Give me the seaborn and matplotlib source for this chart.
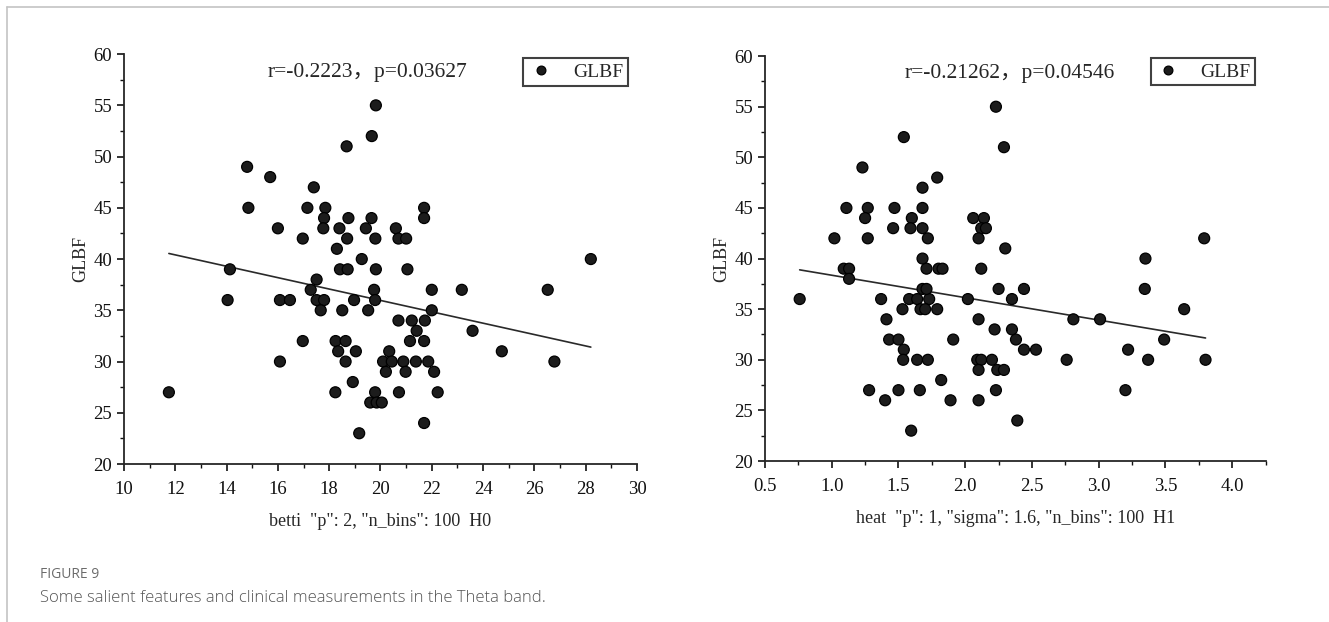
import numpy as np
import pandas as pd
import matplotlib
matplotlib.use("Agg")
import matplotlib.pyplot as plt
from matplotlib.lines import Line2D
from matplotlib.ticker import MultipleLocator
import seaborn as sns

# ---- data: left panel (betti H0 vs GLBF) ----
betti_h0 = [14.8, 15.7, 17.4, 14.85, 16.0, 17.15, 17.85, 17.8, 17.77, 16.97, 18.4, 18.75, 18.7, 18.3,
            19.43, 19.65, 19.8, 18.68, 19.66, 19.82, 19.27, 21.7, 21.7, 20.6, 20.7, 21.0, 28.2, 18.42,
            18.72, 19.82, 21.05, 17.51, 11.75, 14.13, 14.04, 16.08, 16.47, 16.08, 16.97, 17.28, 17.51,
            17.8, 17.67, 19.75, 19.79, 19.52, 18.97, 18.51, 18.25, 18.64, 18.35, 19.04, 18.64, 18.92,
            18.24, 19.79, 19.6, 19.85, 20.05, 19.17, 22.0, 23.17, 26.52, 22.0, 20.7, 21.22, 21.73,
            21.41, 23.59, 21.15, 21.7, 20.34, 24.73, 20.1, 20.44, 20.89, 21.38, 21.86, 26.78, 20.21,
            20.98, 22.09, 20.72, 22.23, 21.7]
glbf_left = [49, 48, 47, 45, 43, 45, 45, 44, 43, 42, 43, 44, 42, 41,
             43, 44, 42, 51, 52, 55, 40, 45, 44, 43, 42, 42, 40, 39,
             39, 39, 39, 38, 27, 39, 36, 36, 36, 30, 32, 37, 36,
             36, 35, 37, 36, 35, 36, 35, 32, 32, 31, 31, 30, 28,
             27, 27, 26, 26, 26, 23, 37, 37, 37, 35, 34, 34, 34,
             33, 33, 32, 32, 31, 31, 30, 30, 30, 30, 30, 30, 29,
             29, 29, 27, 27, 24]

# ---- data: right panel (heat H1 vs GLBF) ----
heat_h1 = [2.23, 1.54, 2.29, 1.23, 1.79, 1.68, 1.11, 1.27, 1.47, 1.68, 1.25, 1.60, 2.06, 2.14,
           1.46, 1.59, 1.68, 2.12, 2.155, 1.02, 1.27, 1.72, 2.10, 2.30, 1.68, 1.09, 1.13, 1.13,
           1.71, 1.80, 1.83, 2.12, 0.76, 1.37, 1.58, 1.64, 1.73, 1.68, 1.71, 2.02, 2.25, 2.44,
           2.35, 1.53, 1.665, 1.70, 1.79, 1.41, 2.10, 1.43, 1.50, 1.91, 1.54, 2.22, 2.35, 2.38,
           2.44, 2.53, 1.535, 1.64, 1.72, 2.09, 2.12, 2.20, 2.10, 2.24, 2.29, 1.82, 1.28, 1.50,
           1.66, 2.23, 1.40, 1.89, 2.10, 1.595, 2.39, 3.79, 3.35, 3.345, 3.64, 2.81, 3.01, 3.49,
           3.22, 2.76, 3.37, 3.80, 3.20]
glbf_right = [55, 52, 51, 49, 48, 47, 45, 45, 45, 45, 44, 44, 44, 44,
              43, 43, 43, 43, 43, 42, 42, 42, 42, 41, 40, 39, 39, 38,
              39, 39, 39, 39, 36, 36, 36, 36, 36, 37, 37, 36, 37, 37,
              36, 35, 35, 35, 35, 34, 34, 32, 32, 32, 31, 33, 33, 32,
              31, 31, 30, 30, 30, 30, 30, 30, 29, 29, 29, 28, 27, 27,
              27, 27, 26, 26, 26, 23, 24, 42, 40, 37, 35, 34, 34, 32,
              31, 30, 30, 30, 27]

right_ticks = [0.5, 1.0, 1.5, 2.0, 2.5, 3.0, 3.5, 4.0]
right_ticklabels = ["0.5", "1.0", "1.5", "2.0", "2.5", "3.0", "3.5", "4.0"]
left_xlabel = 'betti  "p": 2, "n_bins": 100  H0'
right_xlabel = 'heat  "p": 1, "sigma": 1.6, "n_bins": 100  H1'
ylabel = "GLBF"
left_stat = "r=-0.2223，p=0.03627"
right_stat = "r=-0.21262，p=0.04546"
caption_head = "FIGURE 9"
caption_text = "Some salient features and clinical measurements in the Theta band."

df_left = pd.DataFrame({"x": betti_h0, "y": glbf_left, "s": "GLBF"})
df_right = pd.DataFrame({"x": heat_h1, "y": glbf_right, "s": "GLBF"})

sns.set_style("ticks")
serif = ["Liberation Serif", "Noto Sans CJK SC", "DejaVu Sans"]
plt.rcParams["font.family"] = serif
plt.rcParams["axes.linewidth"] = 1.3

fig = plt.figure(figsize=(13.29, 6.22), dpi=100)
ax1 = fig.add_axes([0.0933, 0.254, 0.386, 0.659])
ax2 = fig.add_axes([0.5756, 0.2588, 0.3767, 0.651])


def draw(ax, df, xlim, xmaj, xmin, xlabel, stat, stat_x, leg_anchor):
    sns.regplot(data=df, x="x", y="y", ax=ax, scatter=False, ci=None,
                line_kws=dict(color="#2a2a2a", lw=1.2), truncate=True)
    sns.scatterplot(data=df, x="x", y="y", hue="s", palette=["#1c1c1c"], ax=ax,
                    s=62, edgecolor="#000000", linewidth=0.9, zorder=3)
    ax.set_xlim(*xlim)
    ax.set_ylim(20, 60)
    ax.xaxis.set_major_locator(MultipleLocator(xmaj))
    ax.xaxis.set_minor_locator(MultipleLocator(xmin))
    ax.yaxis.set_major_locator(MultipleLocator(5))
    ax.yaxis.set_minor_locator(MultipleLocator(2.5))
    ax.tick_params(which="major", direction="out", length=5, width=1.2, labelsize=13.5, colors="#111")
    ax.tick_params(axis="x", which="major", pad=7)
    ax.tick_params(which="minor", direction="out", length=3, width=1.0, colors="#111")
    sns.despine(ax=ax)
    ax.set_xlabel(xlabel, fontsize=13, family=serif, labelpad=11)
    ax.set_ylabel(ylabel, fontsize=13, family=serif, labelpad=3)
    ax.text(stat_x, 0.956, stat, transform=ax.transAxes, ha="center", va="center",
            fontsize=15.5, family=serif)
    leg = ax.legend(loc="upper right", bbox_to_anchor=leg_anchor, frameon=True, fancybox=False,
                    handletextpad=1.0, borderpad=0.25, prop={"family": serif, "size": 14},
                    markerscale=0.8, handlelength=1.3, borderaxespad=0.0)
    leg.get_frame().set_edgecolor("#111")
    leg.get_frame().set_linewidth(1.5)


draw(ax1, df_left, (10, 30), 2, 1, left_xlabel, left_stat, 0.474, (0.982, 0.99))
draw(ax2, df_right, (0.5, 4.25), 0.5, 0.25, right_xlabel, right_stat, 0.489, (0.979, 0.995))
ax2.set_xticks(right_ticks)
ax2.set_xticklabels(right_ticklabels)

# page frame lines and caption
fig.add_artist(Line2D([7/1329, 1], [1-7/622, 1-7/622], color="#c4c4c4", lw=1.2, transform=fig.transFigure))
fig.add_artist(Line2D([7/1329, 7/1329], [0, 1-7/622], color="#c4c4c4", lw=1.2, transform=fig.transFigure))
fig.text(40/1329, 1-575/622, caption_head, fontsize=10, color="#6b6b6b", family=["Open Sans", "DejaVu Sans"],
         va="center", ha="left")
fig.text(40/1329, 1-598/622, caption_text, fontsize=12, color="#555555", family=["Open Sans", "DejaVu Sans"],
         va="center", ha="left", fontweight="light")

fig.savefig("out.png", dpi=100)
